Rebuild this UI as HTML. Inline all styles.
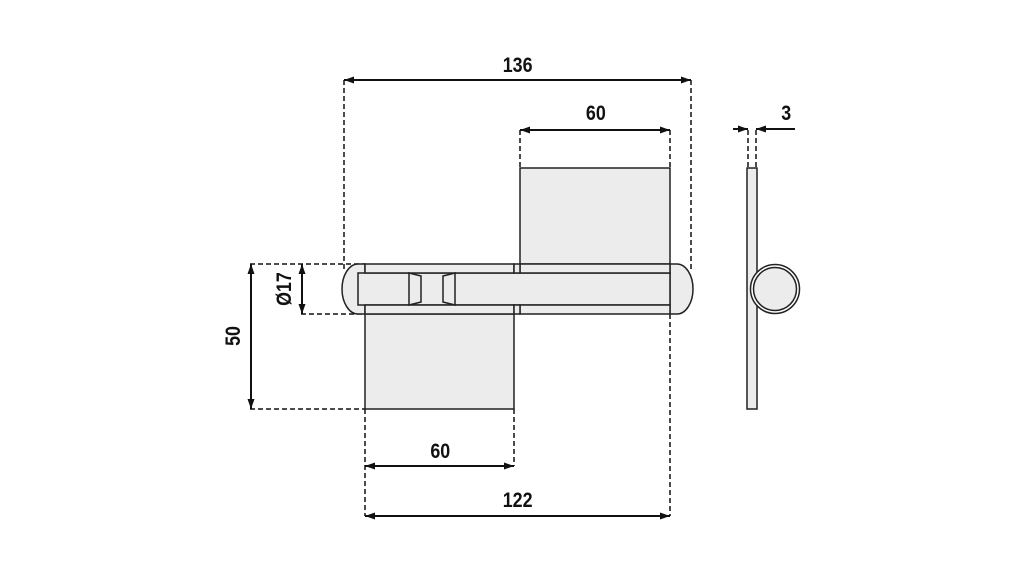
<!DOCTYPE html>
<html><head><meta charset="utf-8"><style>
html,body{margin:0;padding:0;background:#fff;}
svg{display:block;}
text{font-family:"Liberation Sans",sans-serif;font-weight:bold;font-size:21px;fill:#111;}
</style></head><body>
<svg width="1021" height="567" viewBox="0 0 1021 567" xmlns="http://www.w3.org/2000/svg">
<defs>
<marker id="a" viewBox="0 0 10 10" refX="10" refY="5" markerWidth="10" markerHeight="10" orient="auto-start-reverse" markerUnits="userSpaceOnUse">
<path d="M0,1.5 L10,5 L0,8.5 Z" fill="#111"/></marker>
</defs>
<g stroke="#111" stroke-width="1.5" fill="none" stroke-dasharray="5,3">
<line x1="344" y1="80" x2="344" y2="270"/>
<line x1="691" y1="80" x2="691" y2="270"/>
<line x1="520" y1="130" x2="520" y2="168"/>
<line x1="670" y1="130" x2="670" y2="168"/>
<line x1="748" y1="130" x2="748" y2="168"/>
<line x1="756" y1="130" x2="756" y2="168"/>
<line x1="250" y1="264" x2="365" y2="264"/>
<line x1="301" y1="314" x2="365" y2="314"/>
<line x1="250" y1="409" x2="365" y2="409"/>
<line x1="365" y1="409" x2="365" y2="516"/>
<line x1="514" y1="409" x2="514" y2="466"/>
<line x1="670" y1="314" x2="670" y2="516"/>
</g>
<g stroke="#111" stroke-width="2">
<line x1="344" y1="80" x2="691" y2="80" marker-start="url(#a)" marker-end="url(#a)"/>
<line x1="520" y1="130" x2="670" y2="130" marker-start="url(#a)" marker-end="url(#a)"/>
<line x1="365" y1="466" x2="514" y2="466" marker-start="url(#a)" marker-end="url(#a)"/>
<line x1="365" y1="516" x2="670" y2="516" marker-start="url(#a)" marker-end="url(#a)"/>
<line x1="251" y1="264" x2="251" y2="409" marker-start="url(#a)" marker-end="url(#a)"/>
<line x1="302" y1="264" x2="302" y2="314" marker-start="url(#a)" marker-end="url(#a)"/>
<line x1="733" y1="129" x2="748" y2="129" marker-end="url(#a)"/>
<line x1="795" y1="129" x2="756" y2="129" marker-end="url(#a)"/>
</g>
<g stroke="#222" stroke-width="1.5" fill="#ececec">
<rect x="520" y="168" width="150" height="96"/>
<rect x="365" y="314" width="149" height="95"/>
<path d="M358,264 L365,264 L365,314 L358,314 A16,25 0 0 1 358,264 Z"/>
<path d="M670,264 L677,264 A16,25 0 0 1 677,314 L670,314 Z"/>
<rect x="358" y="273" width="312" height="32"/>
<rect x="365" y="264" width="149" height="9"/>
<rect x="365" y="305" width="149" height="9"/>
<rect x="520" y="264" width="150" height="9"/>
<rect x="520" y="305" width="150" height="9"/>
<rect x="514" y="264" width="6" height="9"/>
<rect x="514" y="305" width="6" height="9"/>
<path d="M409,273 L421,276 L421,302 L409,305 Z"/>
<path d="M455,273 L443,276 L443,302 L455,305 Z"/>
<rect x="747" y="168" width="10" height="241"/>
<circle cx="775" cy="289" r="24.5" fill="#fff"/>
<circle cx="775" cy="289" r="21.5"/>
</g>
<g transform="scale(0.85,1)">
<text x="609" y="72" text-anchor="middle">136</text>
<text x="701" y="120" text-anchor="middle">60</text>
<text x="925" y="120" text-anchor="middle">3</text>
<text x="518" y="458" text-anchor="middle">60</text>
<text x="609" y="507" text-anchor="middle">122</text>
</g>
<text transform="translate(240,336) rotate(-90) scale(0.85,1)" text-anchor="middle">50</text>
<text transform="translate(291,289) rotate(-90) scale(0.85,1)" text-anchor="middle">Ø17</text>
</svg>
</body></html>
